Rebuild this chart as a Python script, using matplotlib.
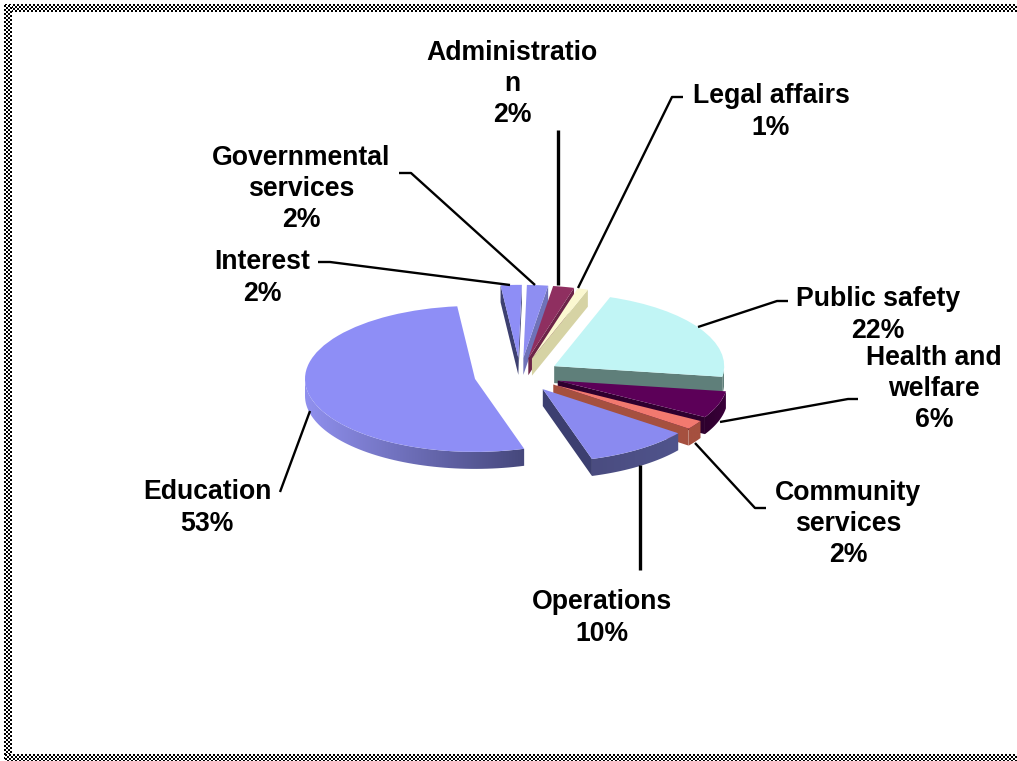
import numpy as np
from matplotlib import pyplot as plt
from matplotlib.patches import Polygon

W, H = 1017, 761
plt.rcParams['font.family'] = ['Liberation Sans', 'DejaVu Sans']

NAMES = ["Education", "Operations", "Community\nservices", "Health and\nwelfare",
         "Public safety", "Legal affairs", "Administratio\nn",
         "Governmental\nservices", "Interest"]
SHARES = [53, 10, 2, 6, 22, 1, 2, 2, 2]

TOP_COLORS = ["#8e8ef6", "#8a8af0", "#f2796f", "#5c0058", "#c1f5f5",
              "#fbf8d0", "#8f2f60", "#8e8ef2", "#8e8ef6"]
# side colours, (left, right) across each slice
RIM_COLORS = [("#9090ee", "#46487c"), ("#4a4c80", "#50548c"), ("#a5503f", "#a5503f"),
              ("#2e002e", "#3a003a"), ("#5f7f7a", "#5f7f7a"), ("#d6d3a4", "#d6d3a4"),
              ("#6c2448", "#6c2448"), ("#6f72b8", "#6f72b8"), ("#3d4070", "#3d4070")]
CUT_COLORS = ["#46487c", "#3c3f70", "#a5503f", "#2e002e", "#5f7f7a",
              "#d6d3a4", "#6c2448", "#6f72b8", "#3d4070"]
DRAW_ORDER = [8, 7, 6, 5, 0, 4, 3, 2, 1]

RX, RY = 170, 73
SQUASH = RY / RX
CX, CY = 520, 375
DEPTH = 17
EXPLODE = [0.27, 0.235, 0.235, 0.235, 0.235, 0.235, 0.235, 0.235, 0.235]
START = 96

LABEL_POS = [(207, 508), (602, 618), (848, 524), (934, 389), (878, 315),
             (771, 112), (512, 84), (301, 189), (262, 278)]
LEADERS = [
    [(280, 492), (310, 411)],
    [(640, 465), (640, 570)],
    [(695, 443), (755, 508), (766, 508)],
    [(720, 422), (848, 399), (858, 399)],
    [(698, 327), (777, 301), (788, 301)],
    [(578, 288), (672, 97), (683, 97)],
    [(558, 285), (558, 130)],
    [(535, 285), (411, 173), (399, 173)],
    [(510, 285), (330, 262), (318, 262)],
]


def to_pie_y(py):
    return (H - py) / SQUASH


def rim_faces(w, depth):
    # outline pieces of the side wall, in pie coordinates
    d = depth / SQUASH
    x0, y0 = w.center
    faces = []
    t1, t2 = w.theta1 % 360, w.theta2 % 360
    if t2 <= t1:
        t2 += 360
    arcs = [(max(t1, 180), min(t2, 360)), (max(t1, 540), min(t2, 720))]
    for a, b in arcs:
        if b > a:
            t = np.radians(np.linspace(a, b, 60))
            xs = x0 + w.r * np.cos(t)
            ys = y0 + w.r * np.sin(t)
            pts = np.r_[np.c_[xs, ys], np.c_[xs[::-1], ys[::-1] - d]]
            faces.append(("rim", pts))
    for ang, visible in ((t1, np.cos(np.radians(t1)) > 0), (t2, np.cos(np.radians(t2)) < 0)):
        if visible:
            ex = x0 + w.r * np.cos(np.radians(ang))
            ey = y0 + w.r * np.sin(np.radians(ang))
            pts = [(x0, y0), (ex, ey), (ex, ey - d), (x0, y0 - d)]
            faces.append(("cut", np.array(pts)))
    return faces


def hex2rgb(c):
    return np.array([int(c[i:i + 2], 16) / 255 for i in (1, 3, 5)])


def draw_pie(ax):
    # pie() takes explode in data units, not as a share of the radius
    wedges, _ = ax.pie(SHARES, explode=[e * RX for e in EXPLODE], startangle=START,
                       counterclock=True, radius=RX, center=(CX, to_pie_y(CY)),
                       colors=TOP_COLORS, wedgeprops={'linewidth': 0}, normalize=True)
    for rank, i in enumerate(DRAW_ORDER):
        w = wedges[i]
        z = 2 + rank * 2
        w.set_zorder(z + 1)
        for kind, pts in rim_faces(w, DEPTH):
            if kind == "cut":
                ax.add_patch(Polygon(pts, closed=True, fc=CUT_COLORS[i], ec='none', zorder=z))
                continue
            left, right = hex2rgb(RIM_COLORS[i][0]), hex2rgb(RIM_COLORS[i][1])
            frac = np.linspace(0, 1, 128)[None, :, None]
            grad = left[None, None, :] * (1 - frac) + right[None, None, :] * frac
            clip = Polygon(pts, closed=True, fc='none', ec='none', transform=ax.transData)
            ax.add_patch(clip)
            im = ax.imshow(grad, aspect='auto', zorder=z, interpolation='bilinear',
                           extent=(pts[:, 0].min(), pts[:, 0].max(), pts[:, 1].min(), pts[:, 1].max()))
            im.set_clip_path(clip)
    ax.set_aspect('auto')
    ax.set_xlim(0, W)
    ax.set_ylim(0, H / SQUASH)
    ax.axis('off')


def draw_border(ax):
    def checker(rows, cols):
        yy, xx = np.indices((rows, cols))
        return ((xx // 2 + yy // 2) % 2).astype(float)
    kw = dict(cmap='gray', vmin=0, vmax=1, aspect='auto', interpolation='nearest')
    ax.imshow(checker(8, W - 5), extent=(5, W, 12, 4), **kw)
    ax.imshow(checker(H - 5, 8), extent=(4, 12, H, 5), **kw)
    ax.imshow(checker(7, W - 5), extent=(5, W, H, H - 7), **kw)


def main():
    fig = plt.figure(figsize=(W / 100, H / 100), dpi=100)
    ax = fig.add_axes([0, 0, 1, 1])
    draw_pie(ax)

    over = fig.add_axes([0, 0, 1, 1], facecolor='none')
    draw_border(over)
    for pts in LEADERS:
        xs, ys = zip(*pts)
        lw = 2.4 if len(pts) == 2 and xs[0] == xs[1] else 1.7
        over.plot(xs, ys, color='black', linewidth=lw, solid_capstyle='butt')
    for name, share, (x, y) in zip(NAMES, SHARES, LABEL_POS):
        over.text(x, y, f"{name}\n{share}%", ha='center', va='center', fontsize=19.2,
                  fontweight='bold', linespacing=1.26, color='black')
    over.set_xlim(0, W)
    over.set_ylim(H, 0)
    over.axis('off')

    fig.savefig("out.png", dpi=100)
    plt.close(fig)


if __name__ == "__main__":
    main()
